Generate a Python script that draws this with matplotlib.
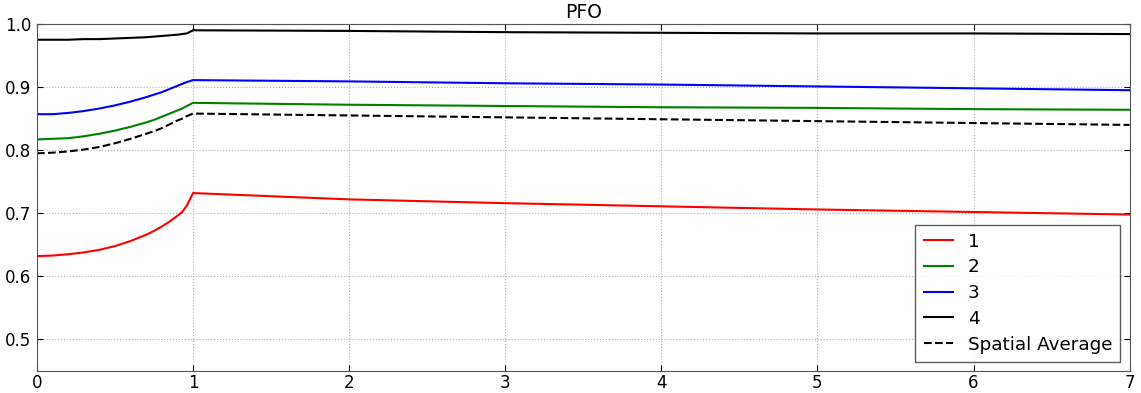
import numpy as np
import matplotlib
matplotlib.use('Agg')
import matplotlib.pyplot as plt

# time axis and curves
t = [0, 0.1, 0.2, 0.3, 0.4, 0.5, 0.6, 0.7, 0.75, 0.8, 0.85, 0.9, 0.93, 0.96, 1.0,
     2, 3, 4, 5, 6, 7]
pfo_1 = [0.632, 0.633, 0.635, 0.638, 0.642, 0.648, 0.656, 0.666, 0.672, 0.679, 0.687, 0.696,
         0.702, 0.712, 0.732,
         0.722, 0.716, 0.711, 0.706, 0.702, 0.698]
pfo_2 = [0.817, 0.818, 0.819, 0.822, 0.826, 0.831, 0.837, 0.844, 0.848, 0.853, 0.858, 0.863,
         0.866, 0.870, 0.875,
         0.872, 0.870, 0.868, 0.867, 0.865, 0.864]
pfo_3 = [0.857, 0.857, 0.859, 0.862, 0.866, 0.871, 0.877, 0.884, 0.888, 0.892, 0.897, 0.902,
         0.905, 0.908, 0.911,
         0.909, 0.906, 0.904, 0.901, 0.898, 0.895]
pfo_4 = [0.975, 0.975, 0.975, 0.976, 0.976, 0.977, 0.978, 0.979, 0.980, 0.981, 0.982, 0.983,
         0.984, 0.985, 0.990,
         0.989, 0.987, 0.986, 0.985, 0.985, 0.984]
pfo_avg = [0.795, 0.796, 0.798, 0.801, 0.805, 0.811, 0.818, 0.826, 0.830, 0.835, 0.841, 0.847,
           0.850, 0.854, 0.858,
           0.855, 0.852, 0.849, 0.846, 0.843, 0.840]

fig = plt.figure(figsize=(11.41, 3.93), dpi=100)
ax = fig.add_axes([0.0324, 0.056, 0.9576, 0.883])

ax.plot(t, pfo_1, color='red', linewidth=1.5, label='1')
ax.plot(t, pfo_2, color='green', linewidth=1.5, label='2')
ax.plot(t, pfo_3, color='blue', linewidth=1.5, label='3')
ax.plot(t, pfo_4, color='black', linewidth=1.5, label='4')
ax.plot(t, pfo_avg, color='black', linewidth=1.5, linestyle='--', label='Spatial Average')

ax.set_xlim(0, 7)
ax.set_ylim(0.45, 1.0)
ax.set_yticks([0.5, 0.6, 0.7, 0.8, 0.9, 1.0])
ax.set_title('PFO', fontsize=13.5, pad=4)
ax.grid(True, color='#b0b0b0', linestyle=':', linewidth=0.8)
ax.tick_params(direction='in', top=True, right=True, labelsize=12, length=4)
ax.tick_params(axis='x', pad=2)
ax.tick_params(axis='y', pad=4)
for s in ax.spines.values():
    s.set_color('#555555')

leg = ax.legend(loc='lower right', fontsize=13.2, fancybox=False, handlelength=1.6,
                borderaxespad=0.5, labelspacing=0.42, borderpad=0.45)
leg.get_frame().set_edgecolor('#333333')

plt.savefig('out.png', dpi=100)
